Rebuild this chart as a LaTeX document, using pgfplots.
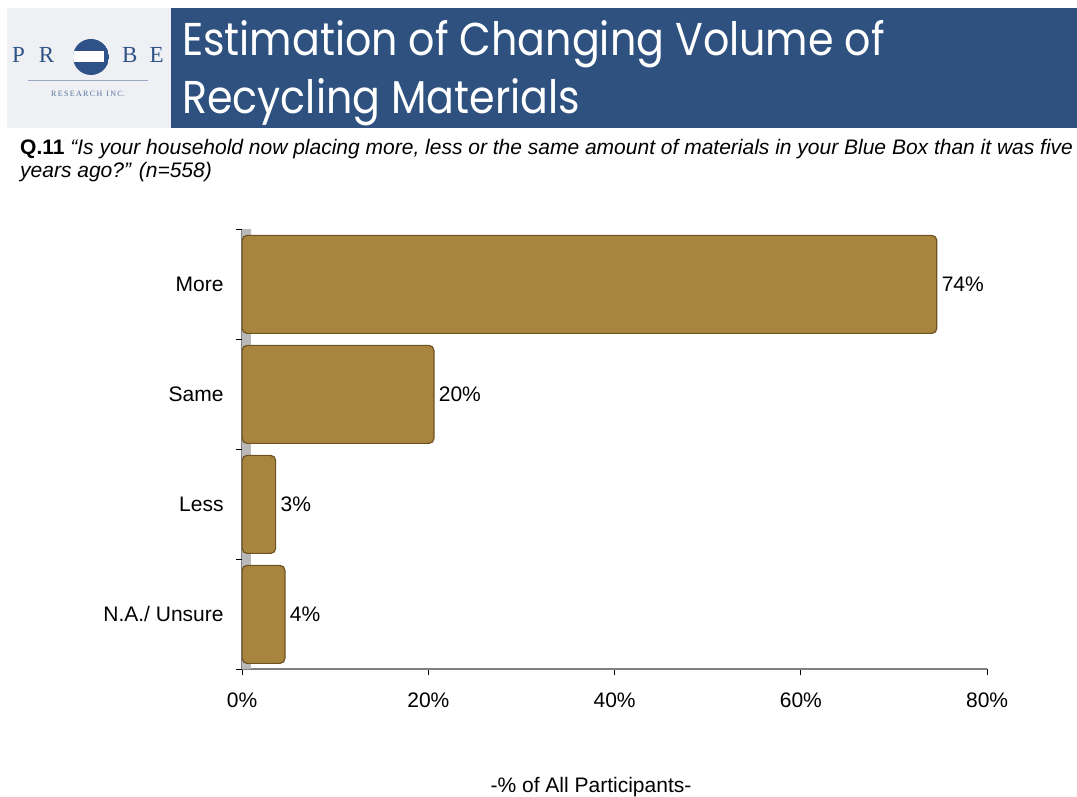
\documentclass[border=0pt]{standalone}
\usepackage{pgfplots}
\pgfplotsset{compat=1.18}
\usepackage{pgfplotstable}
\usepackage{fontspec}
\setmainfont{Liberation Sans}
\newfontfamily\titlefont{Poppins}
\newfontfamily\logofont{Liberation Serif}
\definecolor{band}{HTML}{2E5180}
\definecolor{barfill}{HTML}{A8853F}
\definecolor{baredge}{HTML}{6E5222}
\definecolor{logobg}{HTML}{EEF0F3}
\definecolor{logoblue}{HTML}{2F5388}
\definecolor{axisgray}{HTML}{808080}

% y: 3 = More (top) ... 0 = N.A./ Unsure (bottom)
\pgfplotstableread{
y x label
3 74.6 74
2 20.6 20
1 3.6 3
0 4.6 4
}\datatable

\begin{document}
\begin{tikzpicture}[x=1pt,y=1pt]
\path[use as bounding box] (0,0) rectangle (1077,797);
% logo
\fill[logobg] (7,797-128) rectangle (171,797-8);
\node[anchor=base west,inner sep=0,text=logoblue,font=\logofont\fontsize{23}{23}\selectfont] at (12,797-63) {P\hspace{14pt}R};
\node[anchor=base west,inner sep=0,text=logoblue,font=\logofont\fontsize{23}{23}\selectfont] at (122,797-63) {B\hspace{12pt}E};
\begin{scope}
\clip (91,797-57) circle (18);
\fill[logoblue] (91,797-57) circle (18);
\fill[white] (73,797-62) rectangle (104,797-51);
\end{scope}
\draw[logoblue!50,line width=1pt] (28,797-81) -- (148,797-81);
\node[anchor=center,inner sep=0,text=logoblue!80,font=\logofont\fontsize{8}{8}\selectfont] at (88,797-94) {R\,E\,S\,E\,A\,R\,C\,H\ \ I\,N\,C.};
% title band
\fill[band] (171,797-128) rectangle (1077,797-8);
\node[anchor=base west,inner sep=0,text=white,font=\titlefont\fontsize{46}{46}\selectfont] at (182,797-56) {\scalebox{0.895}[1]{Estimation of Changing Volume of}};
\node[anchor=base west,inner sep=0,text=white,font=\titlefont\fontsize{46}{46}\selectfont] at (182,797-114) {\scalebox{0.895}[1]{Recycling Materials}};
% question
\node[anchor=base west,inner sep=0,font=\fontsize{21}{24}\selectfont] at (20,797-155) {\textbf{Q.11} \textit{“Is your household now placing more, less or the same amount of materials in your Blue Box than it was five}};
\node[anchor=base west,inner sep=0,font=\fontsize{21}{24}\selectfont] at (20,797-178) {\textit{years ago?” (n=558)}};
% x label
\node[anchor=base,inner sep=0,font=\fontsize{21}{24}\selectfont] at (591,797-793) {-\% of All Participants-};

\begin{axis}[
  at={(260,797-681)}, anchor=south west,
  scale only axis, width=745pt, height=440pt,
  xmin=0, xmax=80, ymin=-0.5, ymax=3.5,
  clip=false,
  axis lines*=left,
  axis line style={axisgray, line width=2pt, -},
  xtick={0,20,40,60,80},
  xticklabels={0\%,20\%,40\%,60\%,80\%},
  xtick pos=bottom,
  tick align=outside,
  tick style={black, line width=1pt},
  major tick length=6pt,
  xticklabel style={font=\fontsize{21}{24}\selectfont, yshift=-14pt},
  ytick={0,1,2,3},
  yticklabels={N.A./ Unsure,Less,Same,More},
  ytick pos=left,
  y tick style={draw=none},
  yticklabel style={font=\fontsize{21}{24}\selectfont, xshift=-9pt},
  extra y ticks={-0.5,0.5,1.5,2.5,3.5},
  extra y tick labels={},
  extra y tick style={y tick style={draw=black, line width=1pt}},
  xbar, bar width=98pt, bar shift=0pt,
  nodes near coords={\pgfplotspointmeta\%},
  point meta=explicit symbolic,
  nodes near coords style={anchor=west, xshift=1pt, font=\fontsize{21}{24}\selectfont, text=black},
]
\fill[gray!55] (axis cs:0,-0.5) rectangle (axis cs:1,3.5);
\addplot[fill=barfill, draw=baredge, line width=1.2pt, rounded corners=5pt] table[x=x, y=y, meta=label] {\datatable};
\end{axis}
\end{tikzpicture}
\end{document}
